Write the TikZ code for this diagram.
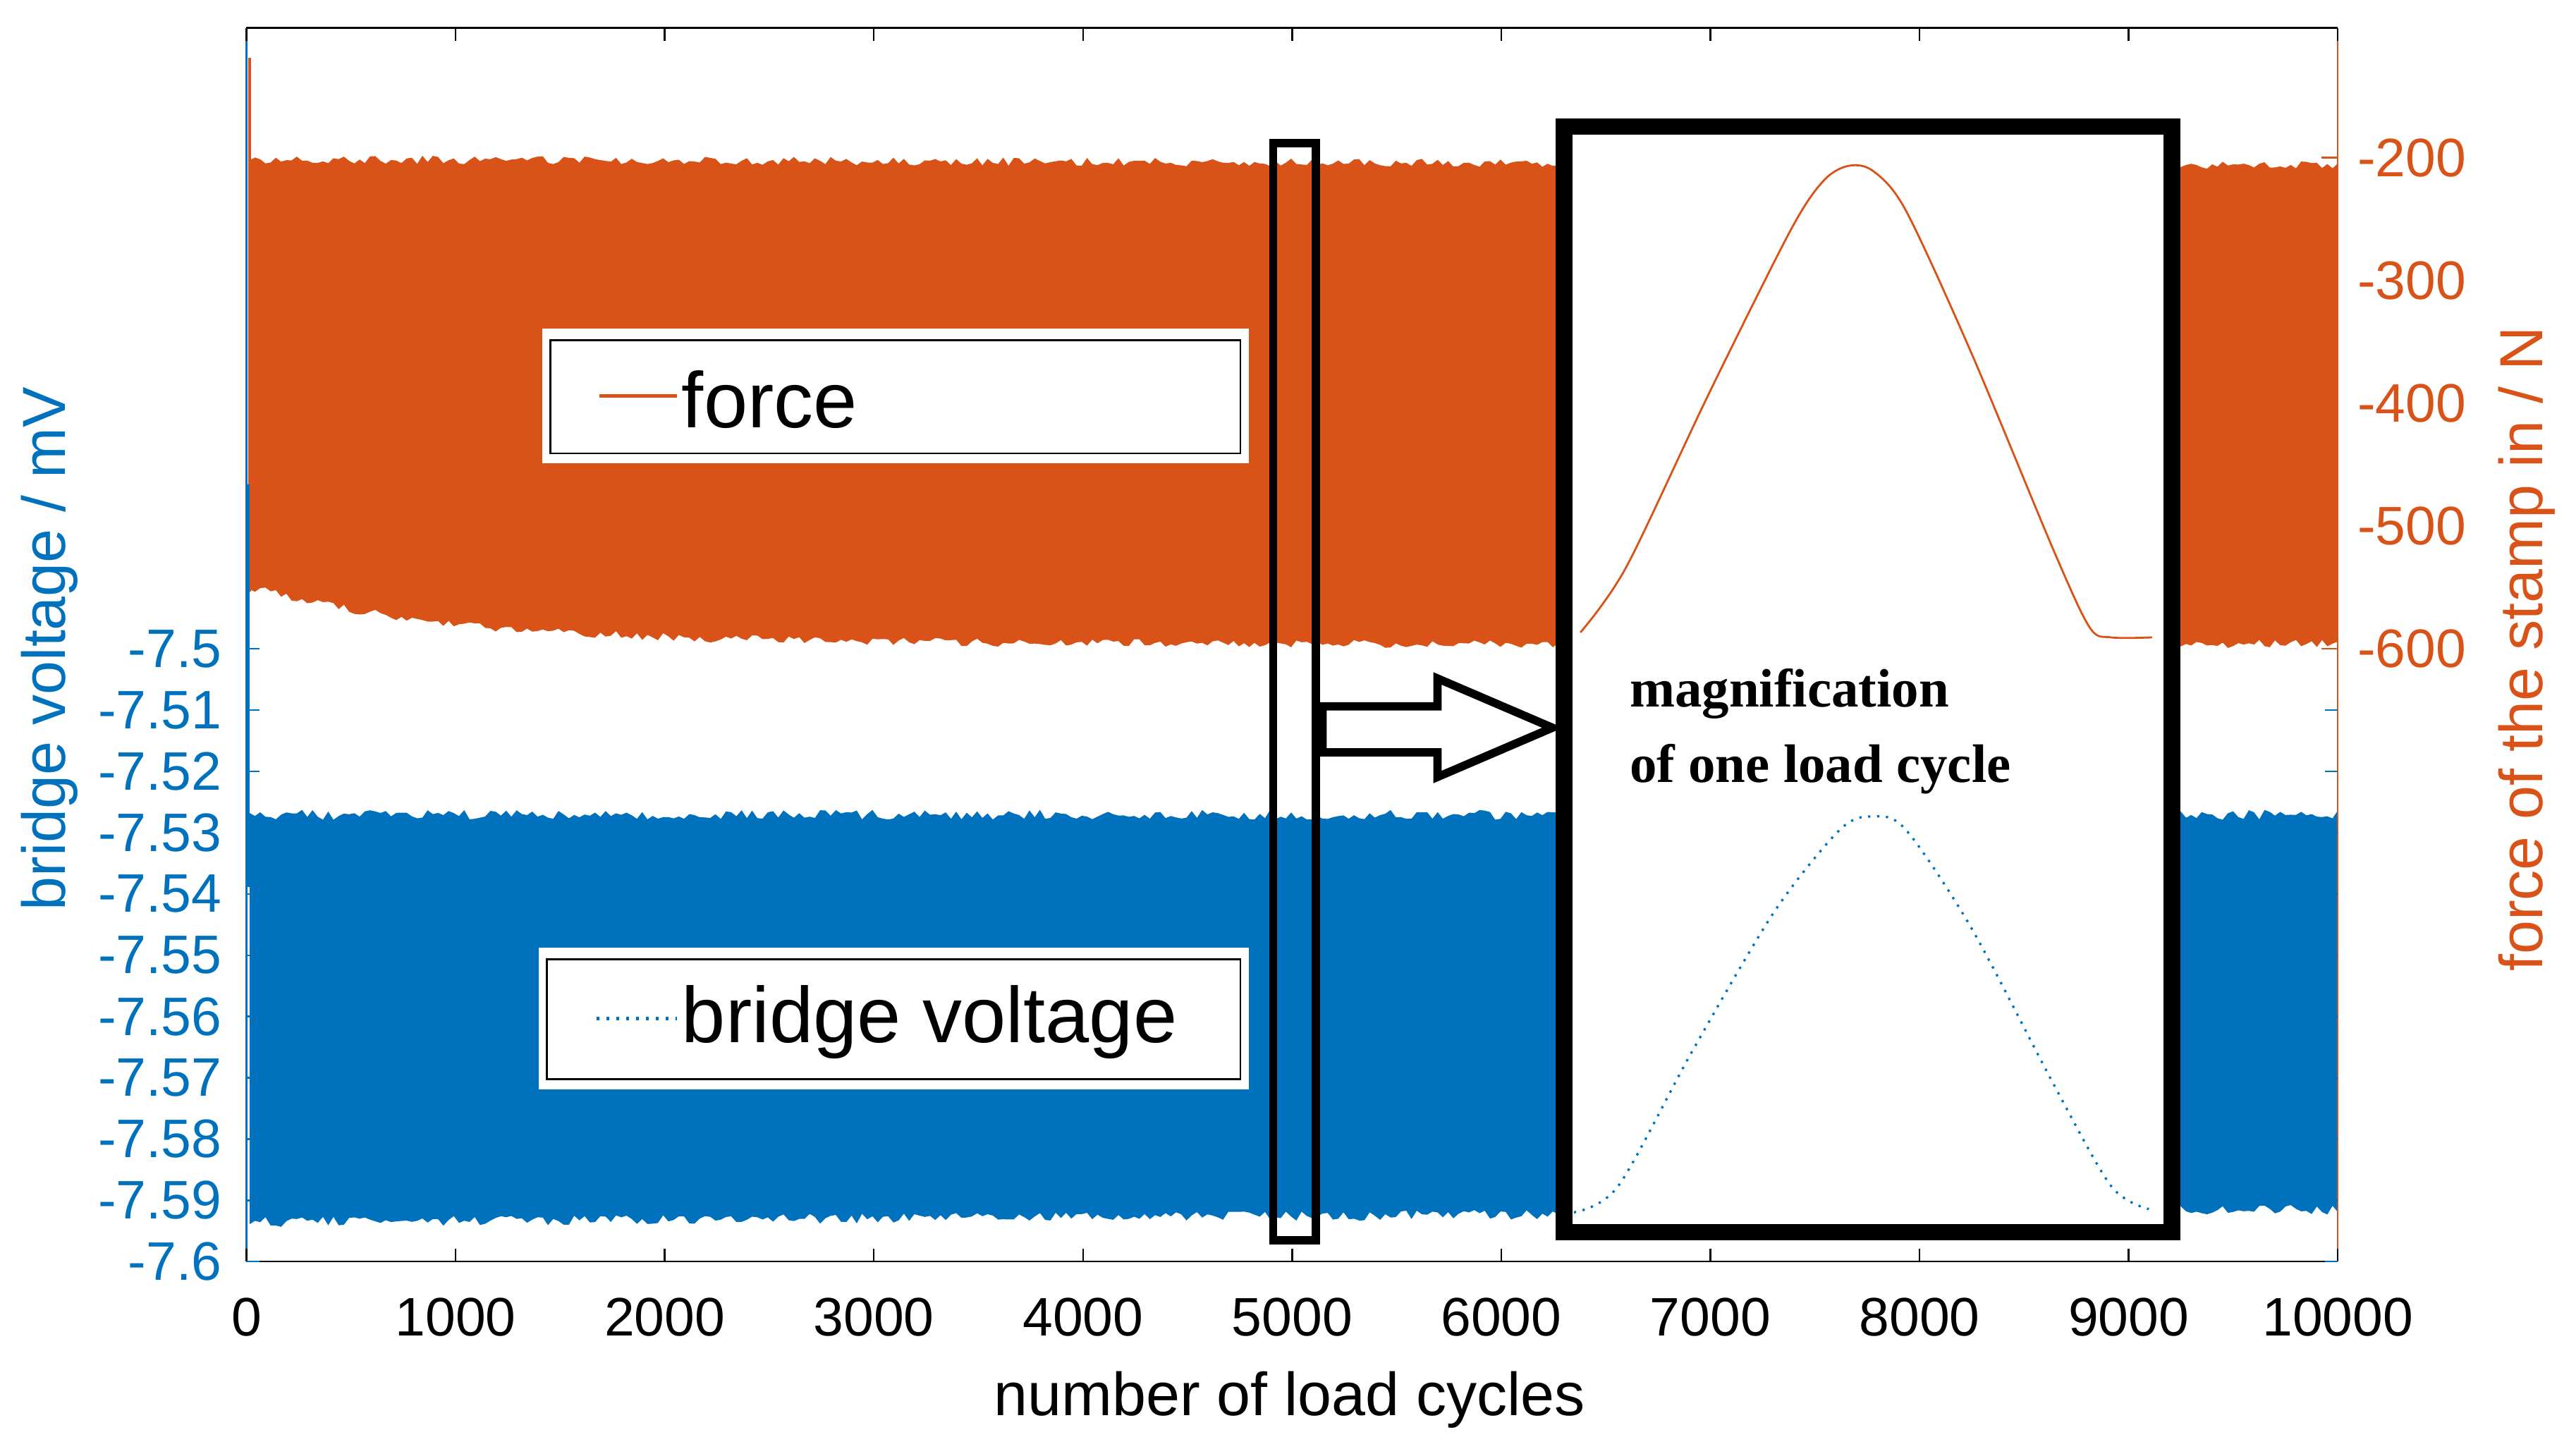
\documentclass[tikz,border=0pt]{standalone}
\usepackage{fontspec}
\setmainfont{Liberation Sans}
\newfontfamily\serifbold{Liberation Serif}
\definecolor{mor}{HTML}{D95319}
\definecolor{mbl}{HTML}{0072BD}
\begin{document}
\begin{tikzpicture}[x=0.5pt,y=-0.5pt,
  tick/.style={font=\fontsize{16.5}{18}\selectfont},
  leg/.style={draw=black,line width=0.6pt,fill=white}]
\useasboundingbox (0,0) rectangle (1568,882);
\pgfmathsetseed{7}
% orange band
\fill[mor] plot[domain=152:1423,samples=400] (\x,{97+0.003*(\x-152)+2.5*rand})
  -- plot[domain=1423:152,samples=400] (\x,{392-35*exp(-(\x-152)/120)+2.5*rand}) -- cycle;
\draw[mor,line width=0.8pt] (152,35) -- (152,360);
% blue band
\fill[mbl] plot[domain=152:1423,samples=400] (\x,{496+3*rand})
  -- plot[domain=1423:152,samples=400] (\x,{744-0.006*(\x-152)+3*rand}) -- cycle;
\draw[mbl,line width=0.8pt] (151,295) -- (151,540);
% axes
\draw[black,line width=0.5pt] (150,17) -- (1423,17) (150,768) -- (1423,768);
\draw[mbl,line width=0.5pt] (150,17) -- (150,768);
\draw[mor,line width=0.5pt] (1423,17) -- (1423,768);
\foreach \i in {0,...,10}{
  \pgfmathsetmacro\xx{150+127.3*\i}
  \draw[black,line width=0.5pt] (\xx,768) -- (\xx,760) (\xx,17) -- (\xx,25);
  \pgfmathtruncatemacro\lab{1000*\i}
  \node[tick,anchor=north] (xt\i) at (\xx,783) {\lab};
}
\foreach \v/\l in {0/-7.6,1/-7.59,2/-7.58,3/-7.57,4/-7.56,5/-7.55,6/-7.54,7/-7.53,8/-7.52,9/-7.51,10/-7.5}{
  \pgfmathsetmacro\yy{768-37.3*\v}
  \draw[mbl,line width=0.5pt] (150,\yy) -- (158,\yy) (1423,\yy) -- (1415,\yy);
  \node[tick,text=mbl,anchor=east] (yl\v) at (142,\yy) {\l};
}
\foreach \v/\l in {0/-600,1/-500,2/-400,3/-300,4/-200}{
  \pgfmathsetmacro\yy{395-74.75*\v}
  \draw[mor,line width=0.5pt] (1423,\yy) -- (1413,\yy);
  \node[tick,text=mor,anchor=west] (yr\v) at (1428,\yy) {\l};
}
\node[font=\fontsize{18.5}{20}\selectfont] (xlab) at (785,852) {number of load cycles};
\node[font=\fontsize{18.5}{20}\selectfont,text=mbl,rotate=90] (ylab) at (30,395) {bridge voltage / mV};
\node[font=\fontsize{18.5}{20}\selectfont,text=mor,rotate=90] (yrlab) at (1538,395) {force of the stamp in / N};
% legends
\fill[white] (330,200) rectangle (760,282);
\draw[leg] (335,207) rectangle (755,276);
\draw[mor,line width=1pt] (365,241) -- (412,241);
\node[font=\fontsize{24}{26}\selectfont,anchor=west] (lf) at (408,243) {force};
\fill[white] (328,577) rectangle (760,663);
\draw[leg] (333,584) rectangle (755,657);
\draw[mbl,line width=1pt,dotted] (363,620) -- (412,620);
\node[font=\fontsize{24}{26}\selectfont,anchor=west] (lb) at (408,622) {bridge voltage};
% small box
\draw[black,line width=2.5pt] (775,87) rectangle (801,755);
% arrow
\draw[black,fill=white,line width=2.5pt,line join=miter] (805,430) -- (875,430) -- (875,413) -- (945,443) -- (875,473) -- (875,458) -- (805,458) -- cycle;
% magnification box
\draw[black,fill=white,line width=5pt] (952,77) rectangle (1322,750);
\draw[mor,line width=0.6pt] plot[smooth] coordinates {(962,385)(990,345)(1040,240)(1090,140)(1110,110)(1125,101)(1140,104)(1160,128)(1200,215)(1250,335)(1272,382)(1285,388)(1310,388)};
\draw[mbl,line width=0.7pt,dotted] plot[smooth] coordinates {(958,738)(985,722)(1030,640)(1080,555)(1120,505)(1140,497)(1160,505)(1200,565)(1250,660)(1285,722)(1308,736)};
\node[font=\serifbold\bfseries\fontsize{16.5}{23}\selectfont,align=left,anchor=north west] (mag) at (985,400) {magnification\\of one load cycle};
\end{tikzpicture}
\end{document}
